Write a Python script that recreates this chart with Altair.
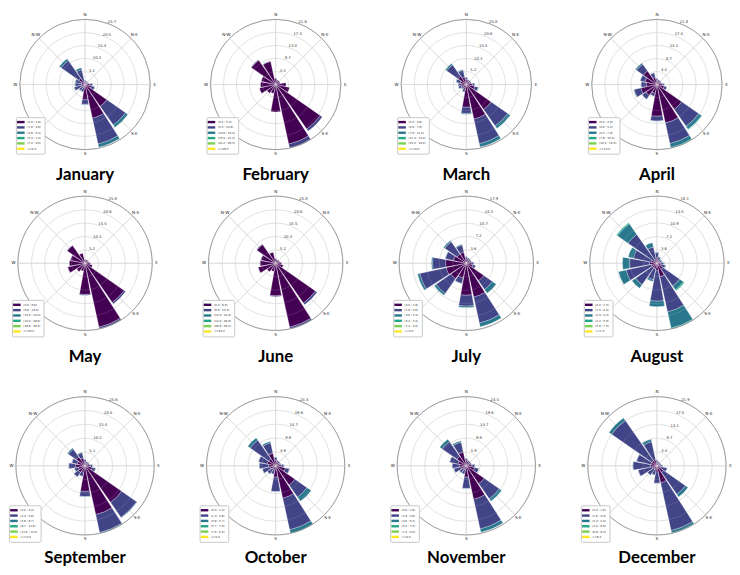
import math
import altair as alt
import pandas as pd

# ---------------- data ----------------
DIR_ANGLES = [i * 22.5 for i in range(16)]  # N, NNE, NE, ... NNW
SPEED_COLORS = ["#440154", "#414487", "#2a788e", "#22a884", "#7ad151", "#fde725"]
COMPASS = ["N", "N-E", "E", "S-E", "S", "W", "N-W"]
COMPASS_ANGLES = [0, 45, 90, 135, 180, 270, 315]
SPOKE_ANGLES = [0, 45, 90, 135, 180, 225, 270, 315]

MONTHS = ["January", "February", "March", "April", "May", "June",
          "July", "August", "September", "October", "November", "December"]

# frequency (%) per direction for each speed bin (N, NNE, NE, ENE, E, ESE, SE, SSE, S, SSW, SW, WSW, W, WNW, NW, NNW)
JAN = [[1.2, 1.0, 1.0, 1.0, 2.0, 2.5, 10.5, 13.6, 6.0, 1.2, 1.0, 1.5, 1.5, 1.5, 3.0, 1.0],
       [0.5, 0.4, 0.4, 0.5, 1.0, 1.4, 9.0, 10.4, 1.8, 1.8, 2.0, 2.8, 2.4, 2.4, 8.5, 5.0],
       [0.0, 0.0, 0.0, 0.0, 0.1, 0.1, 1.1, 1.3, 0.2, 0.1, 0.1, 0.2, 0.2, 0.2, 0.9, 0.8]]
FEB = [[2.0, 1.5, 1.5, 1.5, 3.4, 4.7, 18.0, 20.2, 9.1, 3.0, 3.5, 5.5, 5.0, 4.9, 9.8, 7.8],
       [0.0, 0.0, 0.0, 0.0, 0.0, 0.0, 0.8, 1.3, 0.0, 0.0, 0.0, 0.0, 0.0, 0.0, 0.2, 0.2]]
MAR = [[2.0, 1.5, 1.5, 1.5, 2.5, 3.5, 12.0, 14.0, 9.0, 2.0, 1.5, 2.0, 2.0, 2.5, 4.0, 3.0],
       [0.8, 0.5, 0.5, 0.5, 0.8, 1.3, 8.0, 10.0, 2.5, 1.0, 0.8, 1.2, 1.2, 1.6, 5.5, 2.8],
       [0.0, 0.0, 0.0, 0.0, 0.1, 0.2, 1.2, 1.3, 0.3, 0.1, 0.1, 0.1, 0.1, 0.2, 0.6, 0.3]]
APR = [[1.5, 1.2, 1.2, 1.2, 1.8, 2.5, 10.1, 13.2, 10.6, 3.0, 4.5, 5.5, 3.5, 4.0, 5.5, 2.5],
       [0.5, 0.4, 0.4, 0.4, 0.6, 0.9, 6.9, 7.0, 1.6, 1.0, 1.5, 2.3, 1.8, 1.7, 2.8, 1.5],
       [0.0, 0.0, 0.0, 0.0, 0.1, 0.1, 1.2, 1.4, 0.1, 0.0, 0.1, 0.2, 0.1, 0.1, 0.5, 0.1],
       [0.0, 0.0, 0.0, 0.0, 0.0, 0.0, 0.2, 0.2, 0.0, 0.0, 0.0, 0.0, 0.0, 0.0, 0.0, 0.0]]
MAY = [[1.5, 1.4, 1.4, 1.5, 2.0, 2.9, 18.3, 25.1, 12.0, 3.0, 3.9, 6.8, 6.0, 5.7, 8.4, 4.0],
       [0.0, 0.0, 0.0, 0.0, 0.0, 0.0, 0.7, 0.6, 0.3, 0.0, 0.0, 0.1, 0.0, 0.1, 0.1, 0.0]]
JUN = [[1.8, 1.5, 1.5, 1.6, 2.2, 3.0, 18.6, 25.1, 12.5, 3.2, 4.0, 6.9, 6.0, 5.8, 8.8, 4.4],
       [0.0, 0.0, 0.0, 0.0, 0.0, 0.1, 0.8, 0.6, 0.3, 0.0, 0.0, 0.1, 0.1, 0.1, 0.2, 0.1]]
JUL = [[1.2, 1.0, 1.0, 1.0, 1.5, 1.8, 5.7, 9.2, 8.5, 4.0, 5.0, 5.5, 5.5, 3.5, 3.0, 3.0],
       [0.5, 0.5, 0.4, 0.4, 0.5, 0.7, 2.8, 7.1, 2.9, 1.5, 4.8, 7.2, 3.5, 2.2, 4.0, 2.0],
       [0.1, 0.0, 0.0, 0.0, 0.1, 0.1, 1.2, 1.0, 0.4, 0.1, 0.6, 0.6, 0.3, 0.1, 0.4, 0.2]]
AUG = [[1.5, 1.0, 0.8, 0.8, 1.0, 1.2, 2.0, 3.7, 2.0, 1.5, 1.5, 1.5, 2.0, 1.5, 1.0, 1.0],
       [1.3, 0.8, 0.6, 0.6, 0.8, 1.1, 5.5, 9.7, 8.2, 3.0, 5.5, 7.0, 5.5, 5.0, 8.5, 3.5],
       [0.2, 0.1, 0.1, 0.1, 0.2, 0.2, 1.2, 4.5, 1.5, 0.5, 1.2, 2.1, 1.8, 1.4, 3.5, 1.2],
       [0.0, 0.0, 0.0, 0.0, 0.0, 0.0, 0.3, 0.2, 0.0, 0.0, 0.0, 0.0, 0.0, 0.0, 0.3, 0.0]]
SEP = [[1.5, 1.2, 1.2, 1.2, 2.0, 2.8, 16.5, 18.5, 9.5, 2.5, 3.0, 2.5, 3.5, 3.0, 4.0, 3.0],
       [0.8, 0.5, 0.5, 0.5, 0.8, 1.2, 6.8, 6.8, 1.9, 1.5, 2.0, 1.5, 2.5, 2.0, 3.5, 2.0],
       [0.0, 0.0, 0.0, 0.0, 0.1, 0.1, 0.2, 0.3, 0.1, 0.1, 0.1, 0.1, 0.1, 0.1, 0.5, 0.1]]
OCT = [[2.0, 1.5, 1.4, 1.4, 2.0, 3.5, 8.3, 11.7, 4.0, 1.5, 1.5, 2.0, 2.5, 3.0, 3.0, 4.5],
       [1.0, 0.5, 0.5, 0.5, 0.9, 1.5, 5.2, 11.4, 5.1, 1.5, 2.0, 2.8, 3.3, 3.2, 8.0, 3.8],
       [0.1, 0.0, 0.0, 0.0, 0.1, 0.1, 1.8, 1.3, 0.1, 0.1, 0.1, 0.1, 0.1, 0.1, 1.0, 0.5]]
NOV = [[2.0, 1.5, 1.4, 1.4, 2.0, 3.0, 7.7, 12.1, 4.0, 1.5, 1.5, 2.0, 2.5, 3.0, 4.0, 5.0],
       [0.6, 0.5, 0.5, 0.5, 1.0, 1.5, 6.5, 10.7, 4.0, 1.5, 1.5, 2.5, 2.5, 3.0, 6.4, 3.5],
       [0.1, 0.0, 0.0, 0.0, 0.1, 0.1, 1.0, 1.2, 0.1, 0.1, 0.1, 0.1, 0.1, 0.1, 1.0, 0.5]]
DEC = [[1.0, 0.8, 0.8, 0.8, 1.0, 1.3, 2.5, 5.5, 2.0, 1.2, 1.2, 1.5, 2.0, 2.0, 2.0, 2.0],
       [0.8, 0.6, 0.5, 0.5, 0.8, 2.0, 8.5, 15.5, 3.5, 1.8, 2.4, 4.6, 5.6, 4.6, 15.5, 5.8],
       [0.1, 0.0, 0.0, 0.0, 0.1, 0.1, 1.0, 0.8, 0.1, 0.1, 0.1, 0.1, 0.1, 0.1, 1.0, 0.8]]

# radial tick labels (last = outer circle)
JAN_TICKS = [5.1, 10.3, 15.4, 20.5, 25.7]
FEB_TICKS = [4.3, 8.7, 13.0, 17.3, 21.6]
MAR_TICKS = [5.2, 10.3, 15.5, 20.6, 25.8]
APR_TICKS = [4.4, 8.7, 13.1, 17.4, 21.8]
MAY_TICKS = [5.2, 10.3, 15.5, 20.6, 25.8]
JUN_TICKS = [5.2, 10.3, 15.5, 20.6, 25.8]
JUL_TICKS = [3.6, 7.2, 10.7, 14.3, 17.9]
AUG_TICKS = [3.6, 7.2, 10.9, 14.5, 18.1]
SEP_TICKS = [5.1, 10.2, 15.4, 20.5, 25.6]
OCT_TICKS = [4.9, 9.8, 14.7, 19.6, 24.4]
NOV_TICKS = [4.9, 9.8, 14.7, 19.6, 24.4]
DEC_TICKS = [4.4, 8.7, 13.1, 17.5, 21.9]

# wind speed bin edges (legend)
JAN_EDGES = [0.0, 1.8, 3.6, 5.4, 7.2, 9.0]
FEB_EDGES = [0.0, 5.3, 10.6, 15.9, 21.2, 26.5]
MAR_EDGES = [0.0, 3.8, 7.6, 11.4, 15.2, 19.0]
APR_EDGES = [0.0, 2.6, 5.2, 7.8, 10.4, 13.0]
MAY_EDGES = [0.0, 6.6, 13.3, 19.9, 26.6, 33.2]
JUN_EDGES = [0.0, 6.6, 13.3, 19.9, 26.6, 33.2]
JUL_EDGES = [0.0, 1.8, 3.6, 5.4, 7.2, 9.0]
AUG_EDGES = [0.0, 1.5, 2.9, 4.4, 5.8, 7.3]
SEP_EDGES = [0.0, 2.9, 5.8, 8.7, 11.6, 14.5]
OCT_EDGES = [0.0, 1.9, 3.8, 5.7, 7.6, 9.5]
NOV_EDGES = [0.0, 1.8, 3.6, 5.4, 7.2, 9.0]
DEC_EDGES = [0.0, 1.6, 3.3, 4.9, 6.6, 8.2]

MONTH_BINS = [JAN, FEB, MAR, APR, MAY, JUN, JUL, AUG, SEP, OCT, NOV, DEC]
MONTH_TICKS = [JAN_TICKS, FEB_TICKS, MAR_TICKS, APR_TICKS, MAY_TICKS, JUN_TICKS,
               JUL_TICKS, AUG_TICKS, SEP_TICKS, OCT_TICKS, NOV_TICKS, DEC_TICKS]
MONTH_EDGES = [JAN_EDGES, FEB_EDGES, MAR_EDGES, APR_EDGES, MAY_EDGES, JUN_EDGES,
               JUL_EDGES, AUG_EDGES, SEP_EDGES, OCT_EDGES, NOV_EDGES, DEC_EDGES]

# ---------------- layout ----------------
P = 148
ROW_R = [66, 68, 70]
ROW_TITLE_OFF = [10, 12, 8]
ROW_LEG_OFF = [4, 0, -3]


def edge_labels(edges):
    labs = [f"[{edges[i]:.1f} : {edges[i + 1]:.1f})" for i in range(len(edges) - 1)]
    labs.append(f">={edges[-1]:.1f}")
    return labs


def rose(name, bins, ticks, edges, R, title_off, leg_off):
    rmax = ticks[-1]
    labels = edge_labels(edges)
    th = alt.Scale(domain=[0, 360], range=[0, 2 * math.pi])
    rs = alt.Scale(type="linear", domain=[0, rmax], range=[0, R], zero=True, nice=False)
    half = 22.5 * 0.9 / 2

    recs = []
    cum = [0.0] * 16
    for b, vals in enumerate(bins):
        for i, v in enumerate(vals):
            if v > 0:
                recs.append({"t0": DIR_ANGLES[i] - half, "t1": DIR_ANGLES[i] + half,
                             "r0": cum[i], "r1": cum[i] + v, "speed": labels[b]})
                cum[i] += v
    bars_df = pd.DataFrame(recs)
    ring_df = pd.DataFrame({"r": ticks, "lab": [f"{t:.1f}" for t in ticks],
                            "a0": [0] * 5, "a1": [360] * 5, "tl": [22.5] * 5})
    outer_df = ring_df[ring_df["r"] == rmax]
    spoke_df = pd.DataFrame({"t": SPOKE_ANGLES, "t2": [a + 0.02 for a in SPOKE_ANGLES],
                             "r": [rmax] * len(SPOKE_ANGLES)})
    comp_df = pd.DataFrame({"t": COMPASS_ANGLES, "lab": COMPASS,
                            "r": [rmax * (R + 4.5) / R] * len(COMPASS)})

    spokes = alt.Chart(spoke_df).mark_arc(filled=False, stroke="#d6d6d6", strokeWidth=0.6).encode(
        theta=alt.Theta("t:Q", scale=th, stack=False), theta2="t2:Q",
        radius=alt.Radius("r:Q", scale=rs))
    rings = alt.Chart(ring_df).mark_arc(filled=False, stroke="#d6d6d6", strokeWidth=0.6).encode(
        theta=alt.Theta("a0:Q", scale=th, stack=False), theta2="a1:Q",
        radius=alt.Radius("r:Q", scale=rs))
    bars = alt.Chart(bars_df).mark_arc(stroke="white", strokeWidth=0.25).encode(
        theta=alt.Theta("t0:Q", scale=th, stack=False), theta2="t1:Q",
        radius=alt.Radius("r1:Q", scale=rs), radius2="r0:Q",
        color=alt.Color("speed:N", scale=alt.Scale(domain=labels, range=SPEED_COLORS),
                        legend=alt.Legend(orient="bottom-left", offset=leg_off, title=None,
                                          labelFontSize=2.8, labelFont="DejaVu Sans",
                                          labelColor="#333333",
                                          symbolType="M-2.2,-0.7H2.2V0.7H-2.2Z", symbolSize=12,
                                          rowPadding=1.4, padding=3, fillColor="white",
                                          strokeColor="#c8c8c8", labelLimit=60, labelOffset=4.5,
                                          symbolStrokeWidth=0, cornerRadius=1)))
    rings_top = alt.Chart(ring_df).mark_arc(filled=False, stroke="#d0d0d0", strokeOpacity=0.35,
                                            strokeWidth=0.5).encode(
        theta=alt.Theta("a0:Q", scale=th, stack=False), theta2="a1:Q",
        radius=alt.Radius("r:Q", scale=rs))
    outer = alt.Chart(outer_df).mark_arc(filled=False, stroke="#8a8a8a", strokeWidth=0.8).encode(
        theta=alt.Theta("a0:Q", scale=th, stack=False), theta2="a1:Q",
        radius=alt.Radius("r:Q", scale=rs))
    tick_text = alt.Chart(ring_df).mark_text(fontSize=3.8, font="DejaVu Sans", color="#333333",
                                             dx=2, dy=-2).encode(
        theta=alt.Theta("tl:Q", scale=th), radius=alt.Radius("r:Q", scale=rs), text="lab:N")
    comp_text = alt.Chart(comp_df).mark_text(fontSize=4.2, font="DejaVu Sans", color="#222222").encode(
        theta=alt.Theta("t:Q", scale=th), radius=alt.Radius("r:Q", scale=rs), text="lab:N")

    return alt.layer(spokes, rings, bars, rings_top, outer, tick_text, comp_text).properties(
        width=P, height=P,
        title=alt.TitleParams(text=name, orient="bottom", anchor="middle", font="Lato",
                              fontSize=17, fontWeight="bold", color="black", offset=title_off))


panels = []
for k in range(12):
    row = k // 4
    panels.append(rose(MONTHS[k], MONTH_BINS[k], MONTH_TICKS[k], MONTH_EDGES[k],
                       ROW_R[row], ROW_TITLE_OFF[row], ROW_LEG_OFF[row]))

IND = dict(theta="independent", radius="independent", color="independent")

rows = [alt.hconcat(*panels[r * 4:(r + 1) * 4], spacing=45, bounds="flush").resolve_scale(**IND)
        for r in range(3)]

lower = alt.vconcat(rows[1], rows[2], spacing=25).resolve_scale(**IND)
chart = alt.vconcat(rows[0], lower, spacing=6).resolve_scale(**IND).properties(
    padding=0).configure_view(stroke=None)

chart.save("out.html", embed_options={"renderer": "svg", "actions": False})
